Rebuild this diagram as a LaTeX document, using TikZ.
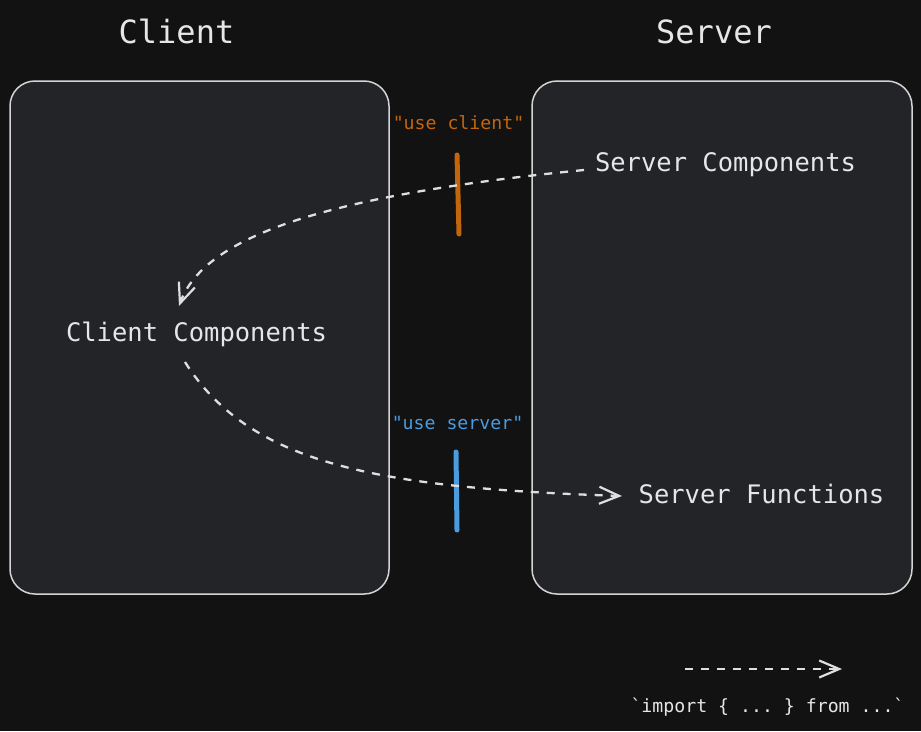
\documentclass[tikz,border=0pt]{standalone}
\usepackage{fontspec}
\setmonofont{DejaVu Sans Mono}
\usetikzlibrary{arrows.meta}
\definecolor{bg}{HTML}{121212}
\definecolor{boxfill}{HTML}{232428}
\definecolor{boxline}{HTML}{D4D4D4}
\definecolor{txt}{HTML}{E6E6E6}
\definecolor{orng}{HTML}{C2660E}
\definecolor{blu}{HTML}{4A9BE0}
\definecolor{dsh}{HTML}{DEDEDE}
\tikzset{
  panel/.style={draw=boxline, fill=boxfill, line width=1.5pt, rounded corners=25pt},
  title/.style={text=txt, font=\ttfamily\fontsize{32}{36}\selectfont, anchor=base},
  comp/.style={text=txt, font=\ttfamily\fontsize{25.5}{30}\selectfont, anchor=base},
  tag/.style={font=\ttfamily\fontsize{18.2}{21}\selectfont, anchor=base},
  bar/.style={line width=5pt, line cap=round},
  imp/.style={draw=dsh, line width=2.3pt, dash pattern=on 8pt off 8pt,
    -{Straight Barb[length=20pt,width=17pt,line width=2.2pt]}},
}
\begin{document}
\begin{tikzpicture}[x=1pt,y=-1pt]
\fill[bg] (0,0) rectangle (921,731);
\useasboundingbox (0,0) rectangle (921,731);
% panels
\draw[panel] (10,81) rectangle (389,594);
\draw[panel] (532,81) rectangle (912,594);
% titles
\node[title] (tc) at (176.5,43) {Client};
\node[title] (ts) at (714,43) {Server};
% components
\node[comp] (sc) at (725.5,171) {Server Components};
\node[comp] (cc) at (196.5,341) {Client Components};
\node[comp] (sf) at (761.5,503) {Server Functions};
% directive tags
\node[tag, text=orng] (uc) at (458.5,129) {"use client"};
\node[tag, text=blu] (us) at (457.5,429) {"use server"};
\coordinate (uct) at (457,155);
\coordinate (ucb) at (459,234);
\coordinate (ust) at (456,452);
\coordinate (usb) at (457,530);
\draw[bar, orng] (uct) -- (ucb);
\draw[bar, blu] (ust) -- (usb);
% import arrows
\coordinate (a1s) at (584,170);
\coordinate (a1e) at (179,306);
\draw[imp] (a1s) .. controls (330,195) and (205,235) .. (a1e);
\coordinate (a2s) at (185,362);
\coordinate (a2e) at (622,496);
\draw[imp] (a2s) .. controls (250,465) and (380,488) .. (a2e);
% legend
\coordinate (ls) at (685,669);
\coordinate (le) at (842,669);
\draw[imp] (ls) -- (le);
\node[tag, text=txt] (lg) at (767.5,712) {`import \{ ... \} from ...`};
\end{tikzpicture}
\end{document}
